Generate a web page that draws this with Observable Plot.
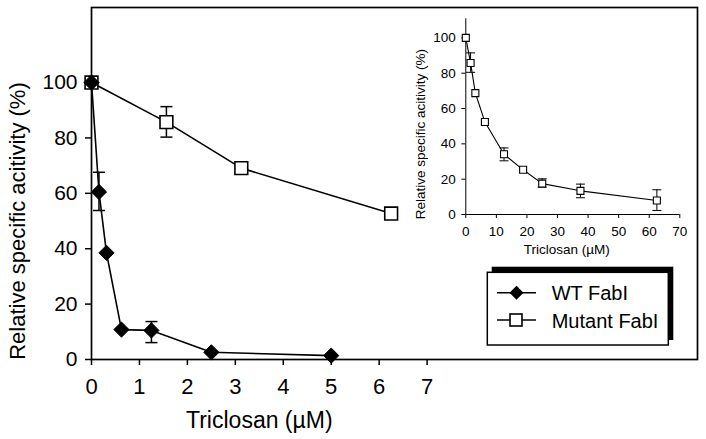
<!DOCTYPE html>
<html><head><meta charset="utf-8">
<script src="https://cdn.jsdelivr.net/npm/d3@7"></script>
<script src="https://cdn.jsdelivr.net/npm/@observablehq/plot@0.6"></script>
<style>
body{margin:0;background:#fff;}
#wrap{position:relative;width:706px;height:439px;overflow:hidden;background:#fff;font-family:"Liberation Sans",Arial,sans-serif;}
#wrap svg{position:absolute;overflow:visible;}
</style></head><body><div id="wrap"></div>
<script>
// ---- data ----
const wtConc = [0, 0.156, 0.3125, 0.625, 1.25, 2.5, 5];
const wtAct = [100, 60.5, 38.5, 10.8, 10.5, 2.6, 1.4];
const wtErrConc = [0.156, 1.25];
const wtErrLow = [53.8, 6.1];
const wtErrHigh = [67.6, 13.7];
const mutConc = [0, 1.5625, 3.125, 6.25];
const mutAct = [100, 85.7, 69.1, 52.7];
const mutErrConc = [1.5625];
const mutErrLow = [80.3];
const mutErrHigh = [91.3];
const insetConc = [0, 1.5625, 3.125, 6.25, 12.5, 18.75, 25, 37.5, 62.5];
const insetAct = [100, 85.8, 68.7, 52.4, 34.1, 25.3, 17.5, 13.4, 7.9];
const insetErrConc = [1.5625, 12.5, 25, 37.5, 62.5];
const insetErrLow = [80.5, 30.4, 15.5, 9.5, 2.3];
const insetErrHigh = [91.5, 37.7, 20.2, 17.2, 14.0];
const mainXTicks = [0, 1, 2, 3, 4, 5, 6, 7];
const mainYTicks = [0, 20, 40, 60, 80, 100];
const insetXTicks = [0, 10, 20, 30, 40, 50, 60, 70];
const insetYTicks = [0, 20, 40, 60, 80, 100];
const xLabel = "Triclosan (µM)";
const yLabel = "Relative specific acitivity (%)";
const seriesNames = ["WT FabI", "Mutant FabI"];

// ---- helpers ----
const rOf = s => Math.sqrt(s / Math.PI);
const diamond = {draw(c, s) { const r = rOf(s); c.moveTo(0, -r); c.lineTo(r, 0); c.lineTo(0, r); c.lineTo(-r, 0); c.closePath(); }};
const square = {draw(c, s) { const r = rOf(s); c.rect(-r, -r, 2 * r, 2 * r); }};
const cap = {draw(c, s) { const r = rOf(s); c.moveTo(-r, 0); c.lineTo(r, 0); }};
const pts = (xs, ys) => xs.map((x, i) => ({x, y: ys[i]}));
const errs = (xs, lo, hi) => xs.map((x, i) => ({x, lo: lo[i], hi: hi[i]}));
const caps = (xs, lo, hi) => xs.flatMap((x, i) => [{x, y: lo[i]}, {x, y: hi[i]}]);
const font = "'Liberation Sans', Arial, Helvetica, sans-serif";

const wt = pts(wtConc, wtAct);
const mut = pts(mutConc, mutAct);
const ins = pts(insetConc, insetAct);

const wrap = document.getElementById("wrap");

// ---- main chart ----
const main = Plot.plot({
  width: 706, height: 439,
  marginLeft: 91, marginRight: 9, marginTop: 7, marginBottom: 80,
  x: {domain: [0, 12.64]},
  y: {domain: [0, 127.1]},
  style: {fontFamily: font, background: "transparent", color: "black"},
  marks: [
    Plot.axisX({ticks: mainXTicks, tickSize: 6, tickPadding: 13, fontSize: 22, strokeWidth: 1.5, label: null, tickFormat: d => String(d)}),
    Plot.axisY({ticks: mainYTicks, tickSize: 6, tickPadding: 8, fontSize: 21, strokeWidth: 1.5, label: null, tickFormat: d => String(d)}),
    Plot.text([xLabel], {x: d3.mean(d3.extent(mainXTicks)), frameAnchor: "bottom", textAnchor: "middle", lineAnchor: "middle", dy: 61, fontSize: 23, fill: "black"}),
    Plot.text([yLabel], {y: d3.mean(d3.extent(mainYTicks)), frameAnchor: "left", textAnchor: "middle", lineAnchor: "middle", dx: -74, rotate: -90, fontSize: 22, fill: "black"}),
    Plot.line(mut, {x: "x", y: "y", stroke: "black", strokeWidth: 1.6}),
    Plot.line(wt, {x: "x", y: "y", stroke: "black", strokeWidth: 1.6}),
    Plot.ruleX(errs(mutErrConc, mutErrLow, mutErrHigh), {x: "x", y1: "lo", y2: "hi", stroke: "black", strokeWidth: 1.5}),
    Plot.dot(caps(mutErrConc, mutErrLow, mutErrHigh), {x: "x", y: "y", symbol: cap, r: 6, stroke: "black", fill: "none", strokeWidth: 1.5}),
    Plot.ruleX(errs(wtErrConc, wtErrLow, wtErrHigh), {x: "x", y1: "lo", y2: "hi", stroke: "black", strokeWidth: 1.5}),
    Plot.dot(caps(wtErrConc, wtErrLow, wtErrHigh), {x: "x", y: "y", symbol: cap, r: 6, stroke: "black", fill: "none", strokeWidth: 1.5}),
    Plot.dot(mut, {x: "x", y: "y", symbol: square, r: 6.4, fill: "white", stroke: "black", strokeWidth: 1.6}),
    Plot.dot(wt, {x: "x", y: "y", symbol: diamond, r: 7.6, fill: "black", stroke: "black", strokeWidth: 1}),
    Plot.frame({stroke: "black", strokeWidth: 1.7})
  ]
});
main.style.left = "0px"; main.style.top = "0px";
wrap.appendChild(main);

// ---- inset ----
const inset = Plot.plot({
  width: 300, height: 270,
  marginLeft: 65.3, marginRight: 20.7, marginTop: 18.3, marginBottom: 56,
  x: {domain: [0, 70]},
  y: {domain: [0, 110.8]},
  style: {fontFamily: font, background: "transparent", color: "black"},
  marks: [
    Plot.ruleX([0], {stroke: "black", strokeWidth: 1}),
    Plot.ruleY([0], {x1: insetXTicks[0], x2: insetXTicks[insetXTicks.length - 1], stroke: "black", strokeWidth: 1}),
    Plot.axisX({ticks: insetXTicks, tickSize: 4, tickPadding: 8, fontSize: 13.5, label: null, tickFormat: d => String(d)}),
    Plot.axisY({ticks: insetYTicks, tickSize: 4, tickPadding: 6, fontSize: 13.5, label: null, tickFormat: d => String(d)}),
    Plot.text([xLabel], {x: d3.mean(d3.extent(insetXTicks)), frameAnchor: "bottom", textAnchor: "middle", lineAnchor: "middle", dx: -6, dy: 35, fontSize: 13.5, fill: "black"}),
    Plot.text([yLabel], {y: d3.mean(d3.extent(insetYTicks)), frameAnchor: "left", textAnchor: "middle", lineAnchor: "middle", dx: -45, dy: 8, rotate: -90, fontSize: 13.5, fill: "black"}),
    Plot.line(ins, {x: "x", y: "y", stroke: "black", strokeWidth: 1.1}),
    Plot.ruleX(errs(insetErrConc, insetErrLow, insetErrHigh), {x: "x", y1: "lo", y2: "hi", stroke: "black", strokeWidth: 1}),
    Plot.dot(caps(insetErrConc, insetErrLow, insetErrHigh), {x: "x", y: "y", symbol: cap, r: 4.5, stroke: "black", fill: "none", strokeWidth: 1}),
    Plot.dot(ins, {x: "x", y: "y", symbol: square, r: 3.5, fill: "white", stroke: "black", strokeWidth: 1.1})
  ]
});
inset.style.left = "400px"; inset.style.top = "0px";
wrap.appendChild(inset);

// ---- legend ----
const leg = d3.create("svg").attr("width", 200).attr("height", 95)
  .style("left", "480px").style("top", "260px");
leg.append("rect").attr("x", 11.7).attr("y", 6.7).attr("width", 181.6).attr("height", 73.3).attr("fill", "black");
leg.append("rect").attr("x", 7.3).attr("y", 12.3).attr("width", 181).attr("height", 72.7)
  .attr("fill", "white").attr("stroke", "black").attr("stroke-width", 1.5);
const rows = [{name: seriesNames[0], y: 32.7, sym: "d"}, {name: seriesNames[1], y: 60, sym: "s"}];
for (const r of rows) {
  leg.append("line").attr("x1", 17).attr("x2", 56).attr("y1", r.y).attr("y2", r.y).attr("stroke", "black").attr("stroke-width", 1.6);
  if (r.sym === "d") {
    leg.append("path").attr("d", `M36.5,${r.y - 7}L43.5,${r.y}L36.5,${r.y + 7}L29.5,${r.y}Z`).attr("fill", "black");
  } else {
    leg.append("rect").attr("x", 30).attr("y", r.y - 6).attr("width", 12).attr("height", 12)
      .attr("fill", "white").attr("stroke", "black").attr("stroke-width", 1.6);
  }
  leg.append("text").attr("x", 71.7).attr("y", r.y + 7.5).attr("font-family", font).attr("font-size", 20)
    .attr("fill", "black").text(r.name);
}
wrap.appendChild(leg.node());
</script>
</body></html>
